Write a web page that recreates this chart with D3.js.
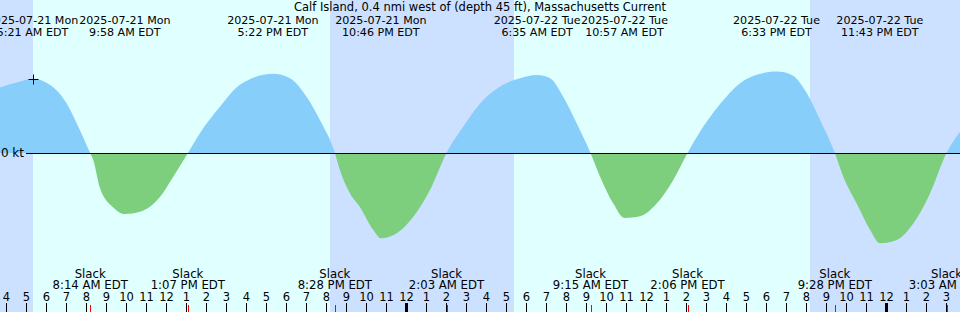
<!DOCTYPE html>
<html lang="en">
<head>
<meta charset="utf-8">
<title>Calf Island current</title>
<script src="https://cdn.jsdelivr.net/npm/d3@7/dist/d3.min.js"></script>
<style>
  body { margin: 0; background: #fff; }
  svg text { font-family: "DejaVu Sans", sans-serif; font-size: 11.5px; fill: #000; }
  svg text.date { font-size: 11.1px; }
  svg text.slackLabel { font-size: 11.7px; }
</style>
</head>
<body>
<div id="viz"></div>
<script>
// Data

var title = "Calf Island, 0.4 nmi west of (depth 45 ft), Massachusetts Current";

// max flood / max ebb times (top labels)
var peakTimes = ["2025-07-21 05:21", "2025-07-21 09:58", "2025-07-21 17:22", "2025-07-21 22:46",
                 "2025-07-22 06:35", "2025-07-22 10:57", "2025-07-22 18:33", "2025-07-22 23:43"];

// slack water times (bottom labels, red ticks)
var slackTimes = ["2025-07-21 08:14", "2025-07-21 13:07", "2025-07-21 20:28", "2025-07-22 02:03",
                  "2025-07-22 09:15", "2025-07-22 14:06", "2025-07-22 21:28", "2025-07-23 03:03"];

// night bands (sunset -> sunrise)
var nightStart = ["2025-07-21 03:43", "2025-07-21 20:13", "2025-07-22 20:13"];
var nightEnd   = ["2025-07-21 05:22", "2025-07-22 05:25", "2025-07-23 03:44"];

// current speed samples: hours from 2025-07-22 00:00, knots (+ flood, - ebb)
var curveHours = [-20.28, -19.45, -18.65, -17.78, -16.94, -16.44, -15.77, -15.61, -15.28, -14.61,
                  -14.30, -14.03, -13.28, -12.28, -11.61, -10.88, -10.28, -9.28, -8.28, -6.63,
                  -5.78, -4.94, -4.28, -3.53, -3.28, -2.78, -2.28, -1.61, -1.23, -0.44,
                  0.39, 1.23, 2.05, 2.89, 3.73, 4.73, 5.73, 6.58, 7.23, 7.89,
                  8.56, 9.25, 9.73, 10.39, 10.95, 11.73, 12.56, 13.39, 14.10, 14.89,
                  15.73, 16.73, 17.73, 18.55, 19.31, 20.06, 20.73, 21.47, 21.89, 22.56,
                  23.23, 23.72, 24.56, 25.39, 26.23, 27.05, 27.73];
var curveKnots = [1.19, 1.28, 1.35, 1.24, 0.90, 0.54, 0, -0.13, -0.63, -0.99,
                  -1.08, -1.11, -1.07, -0.80, -0.43, 0, 0.36, 0.84, 1.24, 1.44,
                  1.36, 1.02, 0.60, 0, -0.31, -0.73, -0.98, -1.40, -1.55, -1.46,
                  -1.16, -0.67, 0, 0.48, 0.90, 1.21, 1.36, 1.42, 1.36, 1.02,
                  0.54, 0, -0.43, -0.92, -1.18, -1.15, -0.92, -0.49, 0, 0.48,
                  0.89, 1.27, 1.44, 1.48, 1.42, 1.09, 0.60, 0, -0.43, -0.92,
                  -1.40, -1.64, -1.58, -1.28, -0.73, 0, 0.39];

(function(d3) {

  var w = 960, h = 312;
  var parse = d3.timeParse("%Y-%m-%d %H:%M");
  var midnight = new Date(2025, 6, 22);
  var start = new Date(2025, 6, 21, 3, 43, 30),
      end = new Date(2025, 6, 23, 3, 43, 30);

  var x = d3.scaleTime().domain([start, end]).range([0, w]);
  var y = d3.scaleLinear().domain([-2, 2]).range([263, 43]);
  var y0 = Math.round(y(0));

  var svg = d3.select("#viz").append("svg")
    .attr("width", w)
    .attr("height", h);

  // day background, then night bands
  svg.append("rect").attr("width", w).attr("height", h).attr("fill", "#e0ffff");
  svg.selectAll("rect.night")
    .data(d3.zip(nightStart, nightEnd))
    .enter().append("rect")
    .attr("class", "night")
    .attr("x", function(d) { return Math.round(x(parse(d[0]))); })
    .attr("y", 0)
    .attr("width", function(d) { return Math.round(x(parse(d[1]))) - Math.round(x(parse(d[0]))); })
    .attr("height", h)
    .attr("fill", "#cce0ff");

  // current curve
  var pts = curveHours.map(function(hr, i) {
    return { t: new Date(+midnight + hr * 3600e3), v: curveKnots[i] };
  });
  var area = d3.area()
    .x(function(d) { return x(d.t); })
    .y0(y0)
    .y1(function(d) { return y(d.v); })
    .curve(d3.curveMonotoneX);

  var defs = svg.append("defs");
  defs.append("clipPath").attr("id", "above")
    .append("rect").attr("x", 0).attr("y", 0).attr("width", w).attr("height", y0);
  defs.append("clipPath").attr("id", "below")
    .append("rect").attr("x", 0).attr("y", y0).attr("width", w).attr("height", h - y0);

  svg.append("path").datum(pts).attr("d", area)
    .attr("fill", "#87cefa").attr("clip-path", "url(#above)");
  svg.append("path").datum(pts).attr("d", area)
    .attr("fill", "#7dcf7d").attr("clip-path", "url(#below)");

  // zero line
  svg.append("line")
    .attr("x1", 26).attr("x2", w)
    .attr("y1", y0 + 0.5).attr("y2", y0 + 0.5)
    .attr("stroke", "#000");
  svg.append("text")
    .attr("x", 24).attr("y", y0 + 4)
    .attr("text-anchor", "end")
    .style("font-size", "12px")
    .text("0 kt");

  // marker at first max
  var first = parse(peakTimes[0]);
  var mx = Math.round(x(first)) + 0.5, my = 79.5;
  svg.append("path")
    .attr("d", "M" + (mx - 5) + "," + my + "H" + (mx + 5) + "M" + mx + "," + (my - 5) + "V" + (my + 5))
    .attr("stroke", "#000").attr("fill", "none");

  // title
  svg.append("text")
    .attr("x", w / 2).attr("y", 11)
    .attr("text-anchor", "middle")
    .text(title);

  // top labels: max flood / ebb
  var fDate = d3.timeFormat("%Y-%m-%d %a"),
      fTime = d3.timeFormat("%-I:%M %p");
  var top = svg.selectAll("g.peak")
    .data(peakTimes.map(parse))
    .enter().append("g")
    .attr("class", "peak")
    .attr("transform", function(d) { return "translate(" + x(d) + ",0)"; });
  top.append("text").attr("class", "date").attr("y", 24).attr("text-anchor", "middle").text(fDate);
  top.append("text").attr("class", "date").attr("y", 36).attr("text-anchor", "middle")
    .text(function(d) { return fTime(d) + " EDT"; });

  // bottom labels: slack
  var slack = svg.selectAll("g.slack")
    .data(slackTimes.map(parse))
    .enter().append("g")
    .attr("class", "slack")
    .attr("transform", function(d) { return "translate(" + x(d) + ",0)"; });
  slack.append("text").attr("class", "slackLabel").attr("y", 278).attr("text-anchor", "middle").text("Slack");
  slack.append("text").attr("class", "slackLabel").attr("y", 289).attr("text-anchor", "middle")
    .text(function(d) { return fTime(d) + " EDT"; });

  // hour ticks
  var hours = d3.timeHour.range(start, end);
  svg.selectAll("text.hour")
    .data(hours)
    .enter().append("text")
    .attr("class", "hour")
    .attr("x", function(d) { return Math.round(x(d)) + 0.5; })
    .attr("y", 301)
    .attr("text-anchor", "middle")
    .text(function(d) { return d.getHours() % 12 || 12; });
  svg.selectAll("rect.hour")
    .data(hours)
    .enter().append("rect")
    .attr("class", "hour")
    .attr("x", function(d) { return Math.round(x(d)) - (d.getHours() === 0 ? 1 : 0); })
    .attr("y", 303)
    .attr("width", function(d) { return d.getHours() === 0 ? 3 : 1; })
    .attr("height", 9)
    .attr("fill", "#000");

  // slack ticks
  svg.selectAll("rect.slack")
    .data(slackTimes.map(parse))
    .enter().append("rect")
    .attr("class", "slack")
    .attr("x", function(d) { return Math.round(x(d)); })
    .attr("y", 305)
    .attr("width", 1)
    .attr("height", 7)
    .attr("fill", "#ff0000");

})(d3);
</script>
</body>
</html>
